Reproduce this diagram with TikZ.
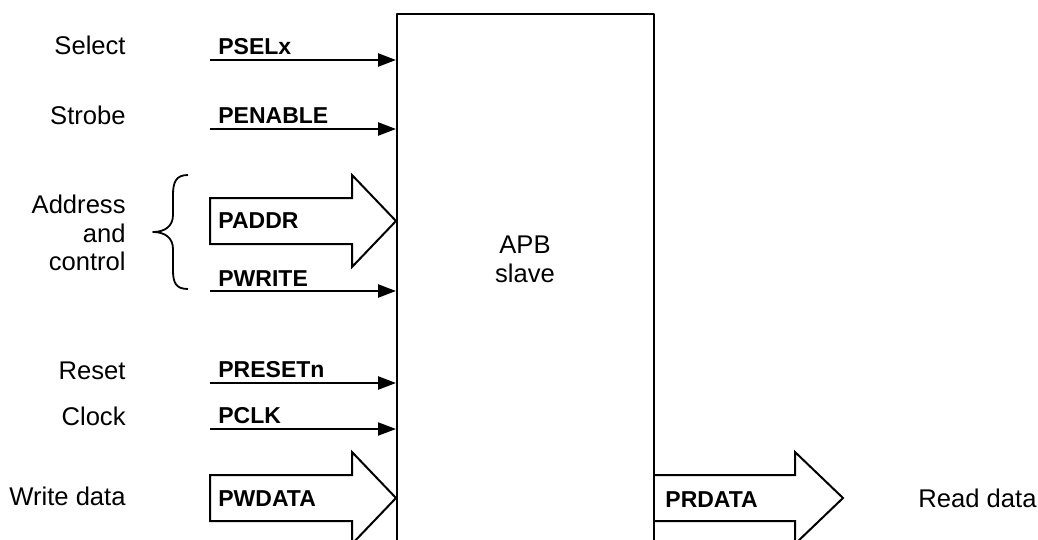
\documentclass[tikz,border=0pt]{standalone}
\usepackage{fontspec}
\setmainfont{Liberation Sans}
\usetikzlibrary{arrows.meta}
\tikzset{
  sig/.style={line width=1.2pt,-{Triangle[length=9pt,width=6.5pt]}},
  bus/.style={line width=1pt,line join=miter},
  signame/.style={font=\bfseries\fontsize{11.5}{13}\selectfont,anchor=base west,inner sep=0pt},
  lbl/.style={font=\fontsize{12.8}{14.25}\selectfont,anchor=base east,inner sep=0pt,align=right},
}
\begin{document}
\begin{tikzpicture}[x=0.5pt,y=-0.5pt,line join=round]
	\def\xs{210} \def\xl{126} \def\xn{218} % start of signals, labels
	\clip (0,0) rectangle (1038,540);
	% slave block (runs off the bottom)
	\node (slave) [draw,line width=1pt,minimum width=128.5pt,minimum height=280pt,inner sep=0pt,anchor=north west] at (396,13) {};
	\node (apb) [font=\fontsize{12.8}{14.5}\selectfont,align=center] at (525,259) {APB\\slave};
	% single wires
	\coordinate (psel) at (\xs,60);
	\coordinate (penable) at (\xs,129);
	\coordinate (pwrite) at (\xs,291);
	\coordinate (preset) at (\xs,383);
	\coordinate (pclk) at (\xs,429);
	\draw[sig] (psel) -- (psel -| slave.west);
	\draw[sig] (penable) -- (penable -| slave.west);
	\draw[sig] (pwrite) -- (pwrite -| slave.west);
	\draw[sig] (preset) -- (preset -| slave.west);
	\draw[sig,line width=1pt] (pclk) -- (pclk -| slave.west);
	% buses
	\coordinate (paddr) at (\xs,221);
	\coordinate (pwdata) at (\xs,498);
	\draw[bus] (paddr) ++(0,-23) -- ++(142,0) -- ++(0,-23) -- (paddr -| slave.west)
		-- ++(-44,46) -- ++(0,-23) -- ++(-142,0) -- cycle;
	\draw[bus] (pwdata) ++(0,-23) -- ++(142,0) -- ++(0,-23) -- (pwdata -| slave.west)
		-- ++(-44,46) -- ++(0,-23) -- ++(-142,0) -- cycle;
	\draw[bus] (pwdata -| slave.east) ++(0,-23) -- ++(140,0) -- ++(0,-23) -- ++(48,46)
		-- ++(-48,46) -- ++(0,-23) -- ++(-140,0);
	% brace
	\draw[line width=0.9pt] (188,175) .. controls (176,175) and (173,182) .. (173,195) -- (173,215)
		.. controls (173,226) and (165,232) .. (153,232)
		.. controls (165,232) and (173,238) .. (173,249) -- (173,270)
		.. controls (173,283) and (176,289) .. (188,289);
	% signal names
	\node (pselname) [signame] at (\xn,55) {PSELx};
	\node (penablename) [signame] at (\xn,124) {PENABLE};
	\node (paddrname) [signame] at (\xn,228) {PADDR};
	\node (pwritename) [signame] at (\xn,286) {PWRITE};
	\node (presetname) [signame] at (\xn,377) {PRESETn};
	\node (pclkname) [signame] at (\xn,423) {PCLK};
	\node (pwdataname) [signame] at (\xn,506) {PWDATA};
	\node (prdataname) [signame] at (665,507) {PRDATA};
	% descriptions
	\node (selectlbl) [lbl] at (\xl,55) {Select};
	\node (strobelbl) [lbl] at (\xl,125) {Strobe};
	\node (addrlbl) [lbl,anchor=east] at (\xl,233) {Address\\and\\control};
	\node (resetlbl) [lbl] at (\xl,379) {Reset};
	\node (clocklbl) [lbl] at (\xl,425) {Clock};
	\node (wdatalbl) [lbl] at (\xl,505) {Write data};
	\node (rdatalbl) [lbl,anchor=base west] at (918,507) {Read data};
\end{tikzpicture}
\end{document}
